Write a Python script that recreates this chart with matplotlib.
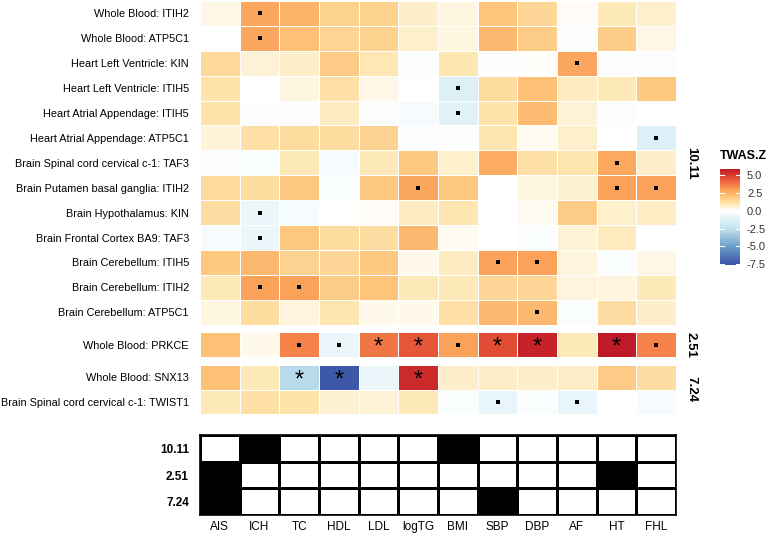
import numpy as np
import matplotlib
matplotlib.use('Agg')
import matplotlib.pyplot as plt
from matplotlib.colors import LinearSegmentedColormap, Normalize, ListedColormap
from matplotlib.colorbar import ColorbarBase

plt.rcParams['font.family'] = ['Liberation Sans', 'DejaVu Sans']

# --- Data ---
traits = ['AIS', 'ICH', 'TC', 'HDL', 'LDL', 'logTG', 'BMI', 'SBP', 'DBP', 'AF', 'HT', 'FHL']

genes = [
    'Whole Blood: ITIH2',
    'Whole Blood: ATP5C1',
    'Heart Left Ventricle: KIN',
    'Heart Left Ventricle: ITIH5',
    'Heart Atrial Appendage: ITIH5',
    'Heart Atrial Appendage: ATP5C1',
    'Brain Spinal cord cervical c-1: TAF3',
    'Brain Putamen basal ganglia: ITIH2',
    'Brain Hypothalamus: KIN',
    'Brain Frontal Cortex BA9: TAF3',
    'Brain Cerebellum: ITIH5',
    'Brain Cerebellum: ITIH2',
    'Brain Cerebellum: ATP5C1',
    'Whole Blood: PRKCE',
    'Whole Blood: SNX13',
    'Brain Spinal cord cervical c-1: TWIST1',
]

twas_z = np.array([
    [0.3, 2.8, 2.4, 1.6, 1.6, 0.7, 0.35, 2.0, 1.45, 0.1, 0.9, 0.6],
    [0.0, 2.8, 2.1, 1.5, 1.6, 0.6, 0.35, 2.3, 1.7, -0.1, 1.75, 0.3],
    [1.4, 0.5, 0.7, 1.8, 0.95, -0.1, 1.0, -0.1, 0.05, 2.8, -0.15, -0.15],
    [1.1, 0.0, 0.35, 1.2, 0.3, 0.0, -1.4, 1.3, 2.1, 0.8, 0.9, 1.9],
    [1.1, -0.15, -0.05, 0.8, -0.1, -0.3, -1.2, 1.1, 2.2, 0.5, -0.15, 0.0],
    [0.45, 1.2, 1.3, 1.3, 1.55, -0.15, -0.05, 1.0, 0.2, 0.6, 0.0, -1.3],
    [-0.1, -0.2, 0.9, -0.3, 0.9, 1.9, 0.6, 2.6, 1.2, 1.05, 2.7, 0.7],
    [1.35, 1.3, 1.9, -0.2, 1.9, 2.8, 1.9, 0.0, 0.35, 0.55, 2.9, 2.9],
    [1.25, -0.8, -0.4, 0.0, 0.1, 0.8, 1.0, 0.0, 0.2, 1.7, 0.6, 0.75],
    [-0.3, -0.8, 1.9, 1.3, 1.25, 2.3, 0.15, 0.0, -0.2, 0.5, 0.85, 0.0],
    [1.9, 2.3, 1.55, 1.45, 1.9, 0.25, 0.8, 2.9, 2.9, 0.4, -0.2, 0.3],
    [0.9, 2.9, 2.9, 1.7, 2.0, 0.9, 0.9, 1.45, 1.45, 0.4, 0.4, 0.9],
    [0.35, 1.3, 0.4, 1.0, 0.25, 0.25, 1.2, 2.3, 2.3, -0.2, 1.25, 0.7],
    [2.1, 0.25, 3.5, -0.8, 3.8, 4.4, 2.9, 4.6, 5.6, 0.9, 5.8, 3.5],
    [2.1, 0.9, -2.8, -7.4, -0.8, 5.4, 0.7, 0.7, 0.65, 0.7, 1.8, 1.25],
    [0.9, 1.2, 1.1, 0.55, 0.5, 0.9, -0.2, -0.9, -0.2, -0.9, 0.0, -0.35],
])

# significance marks ('.' suggestive, '*' significant)
sig = [
    ['', '.', '', '', '', '', '', '', '', '', '', ''],
    ['', '.', '', '', '', '', '', '', '', '', '', ''],
    ['', '', '', '', '', '', '', '', '', '.', '', ''],
    ['', '', '', '', '', '', '.', '', '', '', '', ''],
    ['', '', '', '', '', '', '.', '', '', '', '', ''],
    ['', '', '', '', '', '', '', '', '', '', '', '.'],
    ['', '', '', '', '', '', '', '', '', '', '.', ''],
    ['', '', '', '', '', '.', '', '', '', '', '.', '.'],
    ['', '.', '', '', '', '', '', '', '', '', '', ''],
    ['', '.', '', '', '', '', '', '', '', '', '', ''],
    ['', '', '', '', '', '', '', '.', '.', '', '', ''],
    ['', '.', '.', '', '', '', '', '', '', '', '', ''],
    ['', '', '', '', '', '', '', '', '.', '', '', ''],
    ['', '', '.', '.', '*', '*', '.', '*', '*', '', '*', '.'],
    ['', '', '*', '*', '', '*', '', '', '', '', '', ''],
    ['', '', '', '', '', '', '', '.', '', '.', '', ''],
]

loci = ['10.11', '2.51', '7.24']
locus_sizes = [13, 1, 2]

locus_hits = np.array([
    [0, 1, 0, 0, 0, 0, 1, 0, 0, 0, 0, 0],
    [1, 0, 0, 0, 0, 0, 0, 0, 0, 0, 1, 0],
    [1, 0, 0, 0, 0, 0, 0, 1, 0, 0, 0, 0],
])

# --- Colours ---
vmin, vmax = -7.6, 5.85
stops = [(-7.6, '#3953a4'), (-5.0, '#6b9fcb'), (-2.5, '#c3e3ef'), (-1.0, '#e6f4f9'),
         (0.0, '#ffffff'), (1.0, '#fee6b0'), (2.0, '#fdc47a'), (3.0, '#fb9e56'),
         (4.0, '#ef6b40'), (5.0, '#d83a2e'), (5.85, '#bf1a28')]
cmap = LinearSegmentedColormap.from_list(
    'twas', [((v - vmin) / (vmax - vmin), c) for v, c in stops])
norm = Normalize(vmin=vmin, vmax=vmax)

W, H = 772, 536
fig = plt.figure(figsize=(W / 100, H / 100), dpi=100)


def px_axes(x0, y0, x1, y1):
    return fig.add_axes([x0 / W, 1 - y1 / H, (x1 - x0) / W, (y1 - y0) / H])


left, right = 200, 676
row_h = 24.9
gap = 7.5
top = 1.0

start = 0
for locus, n in zip(loci, locus_sizes):
    y0 = top
    y1 = top + n * row_h
    ax = px_axes(left, y0, right, y1)
    block = twas_z[start:start + n]
    ax.pcolormesh(block, cmap=cmap, norm=norm, edgecolors='white', linewidth=0.5)
    ax.set_xlim(0, len(traits))
    ax.set_ylim(n, 0)
    ax.set_yticks(np.arange(n) + 0.5)
    ax.set_yticklabels(genes[start:start + n], fontsize=7.85)
    ax.tick_params(axis='y', length=0, pad=8)
    ax.set_xticks([])
    for s in ax.spines.values():
        s.set_visible(False)
    for i in range(n):
        for j in range(len(traits)):
            mark = sig[start + i][j]
            if mark == '.':
                ax.scatter(j + 0.5, i + 0.5, marker='s', s=5, c='black', linewidths=0)
            elif mark == '*':
                ax.text(j + 0.5, i + 0.62, '*', ha='center', va='center', fontsize=17)
    fig.text(691 / W, 1 - (y0 + y1) / 2 / H, locus, rotation=270, ha='center', va='center',
             fontsize=9.5, fontweight='bold')
    start += n
    top = y1 + gap

# --- Locus / trait panel ---
axb = px_axes(left, 435, right, 515)
axb.pcolormesh(locus_hits, cmap=ListedColormap(['white', 'black']), vmin=0, vmax=1,
               edgecolors='black', linewidth=1)
axb.set_xlim(0, len(traits))
axb.set_ylim(len(loci), 0)
axb.set_yticks(np.arange(len(loci)) + 0.5)
axb.set_yticklabels(loci, fontsize=8.5, fontweight='bold')
axb.set_xticks(np.arange(len(traits)) + 0.5)
axb.set_xticklabels(traits, fontsize=8.5)
axb.tick_params(axis='y', length=0, pad=8)
axb.tick_params(axis='x', length=0, pad=4)
for s in axb.spines.values():
    s.set_linewidth(1.2)

# --- Legend ---
fig.text(720 / W, 1 - 156 / H, 'TWAS.Z', fontsize=9, fontweight='bold', va='center', ha='left')
cax = px_axes(720, 169, 740, 265)
cb = ColorbarBase(cax, cmap=cmap, norm=norm, orientation='vertical')
cb.outline.set_visible(False)
cticks = [5.0, 2.5, 0.0, -2.5, -5.0, -7.5]
cb.set_ticks(cticks)
cb.set_ticklabels([f'{t:.1f}' for t in cticks])
cax.tick_params(length=0, labelsize=8, pad=5, colors='#333333')
for t in cticks:
    cax.plot([0, 0.2], [t, t], color='white', lw=0.8)
    cax.plot([0.8, 1], [t, t], color='white', lw=0.8)

fig.savefig('out.png', dpi=100)
